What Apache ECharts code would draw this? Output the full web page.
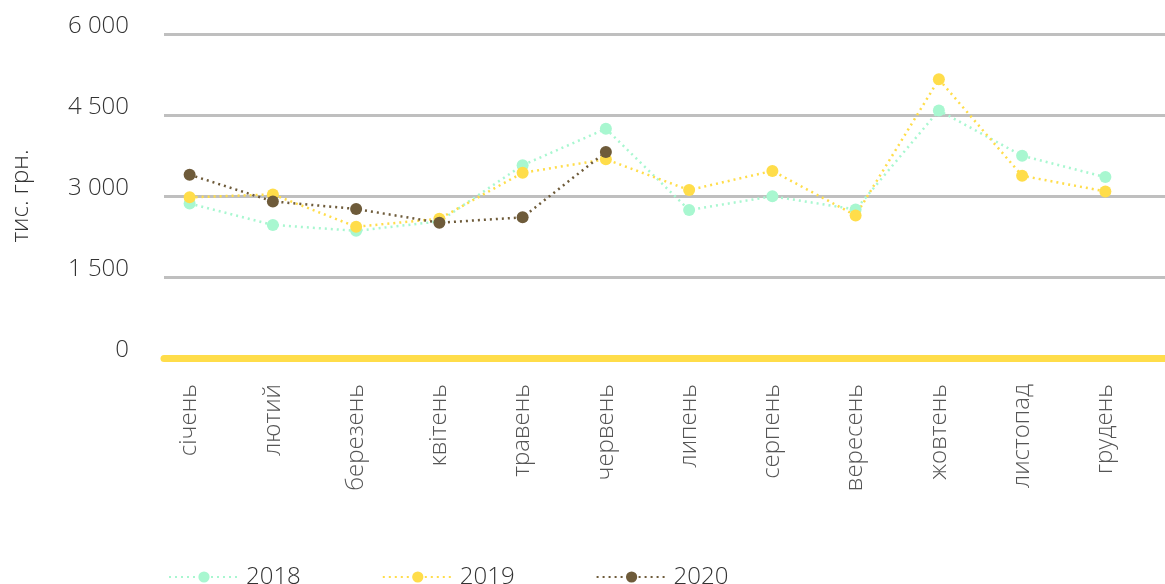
<!DOCTYPE html>
<html>
<head>
<meta charset="utf-8">
<script src="https://cdn.jsdelivr.net/npm/echarts@6/dist/echarts.min.js"></script>
<style>html,body{margin:0;padding:0;background:#fff}#c{width:1165px;height:584px}</style>
</head>
<body>
<div id="c"></div>
<script>
const months = ['січень','лютий','березень','квітень','травень','червень','липень','серпень','вересень','жовтень','листопад','грудень'];
const s2018 = [2860, 2465, 2355, 2530, 3570, 4245, 2740, 2995, 2750, 4585, 3745, 3350];
const s2019 = [2975, 3030, 2430, 2580, 3430, 3680, 3110, 3465, 2640, 5160, 3375, 3085];
const s2020 = [3395, 2900, 2760, 2505, 2605, 3815];
const yTicks = [0, 1500, 3000, 4500, 6000];

const font = '"Open Sans", sans-serif';
const chart = echarts.init(document.getElementById('c'), null, {renderer: 'canvas'});
function fmt(v){ return String(v).replace(/\B(?=(\d{3})+(?!\d))/g, ' '); }
function mk(name, data, color){
  return {
    name, type: 'line', data, xAxisIndex: 0, yAxisIndex: 0,
    symbol: 'circle', symbolSize: 12,
    itemStyle: {color},
    lineStyle: {color, width: 2.5, type: [2, 4]},
    z: 5
  };
}
chart.setOption({
  animation: false,
  textStyle: {fontFamily: font},
  grid: [
    {left: 148, right: 18, top: 34, bottom: 226, outerBoundsMode: 'none'},
    {left: 164, right: 0, top: 34, bottom: 226, outerBoundsMode: 'none'}
  ],
  legend: {
    top: 560, left: 163, itemWidth: 70, itemHeight: 14, itemGap: 81,
    textStyle: {fontFamily: font, fontSize: 24, color: '#333', fontWeight: 300, padding: [0,0,0,2]},
    data: ['2018','2019','2020']
  },
  xAxis: [
    {type: 'category', gridIndex: 0, data: months, boundaryGap: true,
     axisLine: {show: false}, axisTick: {show: false},
     axisLabel: {rotate: 90, margin: 26, fontSize: 24, color: '#555', fontFamily: font, fontWeight: 300}},
    {type: 'value', gridIndex: 1, min: 0, max: 1, show: true,
     axisLabel: {show: false}, axisTick: {show: false}, splitLine: {show: false},
     axisLine: {show: true, lineStyle: {color: '#FFDD4A', width: 7, cap: 'round'}}, z: 3}
  ],
  yAxis: [
    {type: 'value', gridIndex: 0, min: 0, max: 6000, interval: 1500, show: false, splitLine: {show: false}},
    {type: 'value', gridIndex: 1, min: 0, max: 6000, interval: 1500,
     name: 'тис. грн.', nameLocation: 'middle', nameGap: 131, nameRotate: 90,
     nameTextStyle: {fontSize: 24, color: '#333', fontFamily: font, fontWeight: 300},
     axisLine: {show: false}, axisTick: {show: false},
     axisLabel: {margin: 35, fontSize: 24, color: '#333', fontFamily: font, fontWeight: 300,
                 verticalAlign: 'bottom', lineHeight: 15, formatter: v => fmt(v)},
     splitLine: {lineStyle: {color: '#BFBFBF', width: 3}}}
  ],
  series: [
    mk('2018', s2018, '#A8F7D0'),
    mk('2019', s2019, '#FFDD4A'),
    mk('2020', s2020, '#6E5B3A')
  ]
});
</script>
</body>
</html>
